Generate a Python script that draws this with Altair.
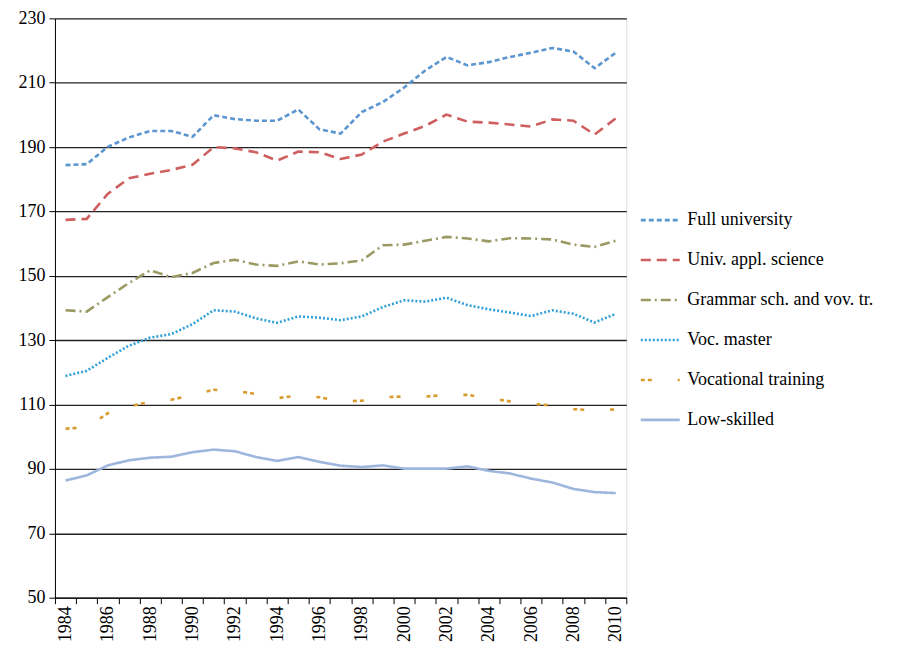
import altair as alt
import pandas as pd

years = list(range(1984, 2011))
series = ["Full university", "Univ. appl. science", "Grammar sch. and vov. tr.",
          "Voc. master", "Vocational training", "Low-skilled"]

full_univ = [184.4, 184.7, 190.1, 193.0, 195.0, 195.0, 193.2, 199.9, 198.7, 198.2, 198.2, 201.7, 195.5,
             194.2, 200.9, 204.0, 208.5, 213.8, 218.0, 215.4, 216.4, 218.0, 219.3, 220.8, 219.7, 214.5, 219.3]
univ_appl = [167.4, 167.7, 175.5, 180.3, 181.7, 182.9, 184.5, 190.0, 189.6, 188.4, 185.8, 188.6, 188.4,
             186.3, 187.7, 191.7, 194.2, 196.6, 200.1, 197.9, 197.6, 197.0, 196.4, 198.6, 198.2, 193.9, 198.9]
grammar = [139.3, 138.9, 143.4, 147.8, 151.7, 149.6, 150.9, 154.0, 155.0, 153.5, 153.1, 154.5, 153.5,
           153.9, 154.8, 159.5, 159.7, 160.9, 162.1, 161.6, 160.7, 161.7, 161.6, 161.3, 159.7, 159.0, 160.9]
voc_master = [118.9, 120.5, 124.5, 128.3, 130.8, 131.9, 135.0, 139.3, 138.9, 136.8, 135.4, 137.4, 137.0,
              136.2, 137.4, 140.3, 142.4, 142.0, 143.2, 140.9, 139.6, 138.6, 137.5, 139.3, 138.2, 135.5, 138.2]
voc_training = [102.5, 103.0, 107.3, 109.5, 110.8, 111.5, 113.0, 114.6, 114.3, 113.3, 112.0, 112.8, 112.3,
                111.0, 111.2, 112.3, 112.5, 112.5, 113.0, 113.0, 112.0, 111.0, 110.3, 109.7, 108.6, 108.2, 108.5]
low_skilled = [86.4, 88.0, 91.1, 92.7, 93.5, 93.8, 95.2, 96.0, 95.5, 93.7, 92.5, 93.7, 92.2,
               91.0, 90.6, 91.1, 90.1, 90.1, 90.1, 90.8, 89.4, 88.6, 87.0, 85.8, 83.8, 82.8, 82.5]

y_ticks = [50, 70, 90, 110, 130, 150, 170, 190, 210, 230]
colors = ["#5b96d0", "#cf5f5f", "#9b9a64", "#31a0d8", "#d99b2e", "#9db6dc"]
dashes = [[5, 3], [10, 6], [10, 4, 2, 4], [2, 2], [4, 3, 4, 26], [1, 0]]

values = [full_univ, univ_appl, grammar, voc_master, voc_training, low_skilled]
rows = []
for name, vals in zip(series, values):
    for yr, v in zip(years, vals):
        rows.append({"year": str(yr), "series": name, "value": v})
df = pd.DataFrame(rows)

FONT = "'Liberation Serif', 'DejaVu Serif', serif"

legend_kw = dict(title=None, orient="none", legendX=585, legendY=181,
                 symbolType="stroke", symbolSize=1521,
                 symbolStrokeWidth=2.6, labelFont=FONT,
                 labelFontSize=18, labelColor="black",
                 labelOffset=6, rowPadding=10, padding=0,
                 labelLimit=300,
                 labelExpr="datum.label == 'Low-skilled' ? '\u2002\u2002Low-skilled' : datum.label")

chart = alt.Chart(df).mark_line(strokeWidth=2.6, strokeCap="butt").encode(
    x=alt.X("year:O", bandPosition=0.5,
            scale=alt.Scale(type="band", paddingInner=0, paddingOuter=0),
            axis=alt.Axis(title=None, tickBand="extent", labelAngle=-90, grid=False,
                          labelExpr="toNumber(datum.value) % 2 == 0 ? datum.label : ''",
                          tickSize=6, tickColor="black", domainColor="black",
                          labelFont=FONT, labelFontSize=18, labelColor="black",
                          labelPadding=2)),
    y=alt.Y("value:Q", scale=alt.Scale(domain=[50, 230], nice=False, zero=False),
            axis=alt.Axis(title=None, values=y_ticks, grid=True, gridColor="#222",
                          gridWidth=1.3, tickSize=6, tickColor="black", domainColor="black",
                          labelFont=FONT, labelFontSize=18, labelColor="black",
                          labelPadding=4)),
    color=alt.Color("series:N", sort=series,
                    scale=alt.Scale(domain=series, range=colors),
                    legend=alt.Legend(**legend_kw)),
    strokeDash=alt.StrokeDash("series:N", sort=series,
                              scale=alt.Scale(domain=series, range=dashes),
                              legend=alt.Legend(**legend_kw)),
    order=alt.Order("year:O"),
).properties(
    width=572, height=580,
    autosize=alt.AutoSizeParams(type="none"),
    padding={"left": 47, "top": 10, "right": 270, "bottom": 48},
).configure_view(stroke=None).configure(background="white")

chart.save("out.html", embed_options={"renderer": "svg", "actions": False})
